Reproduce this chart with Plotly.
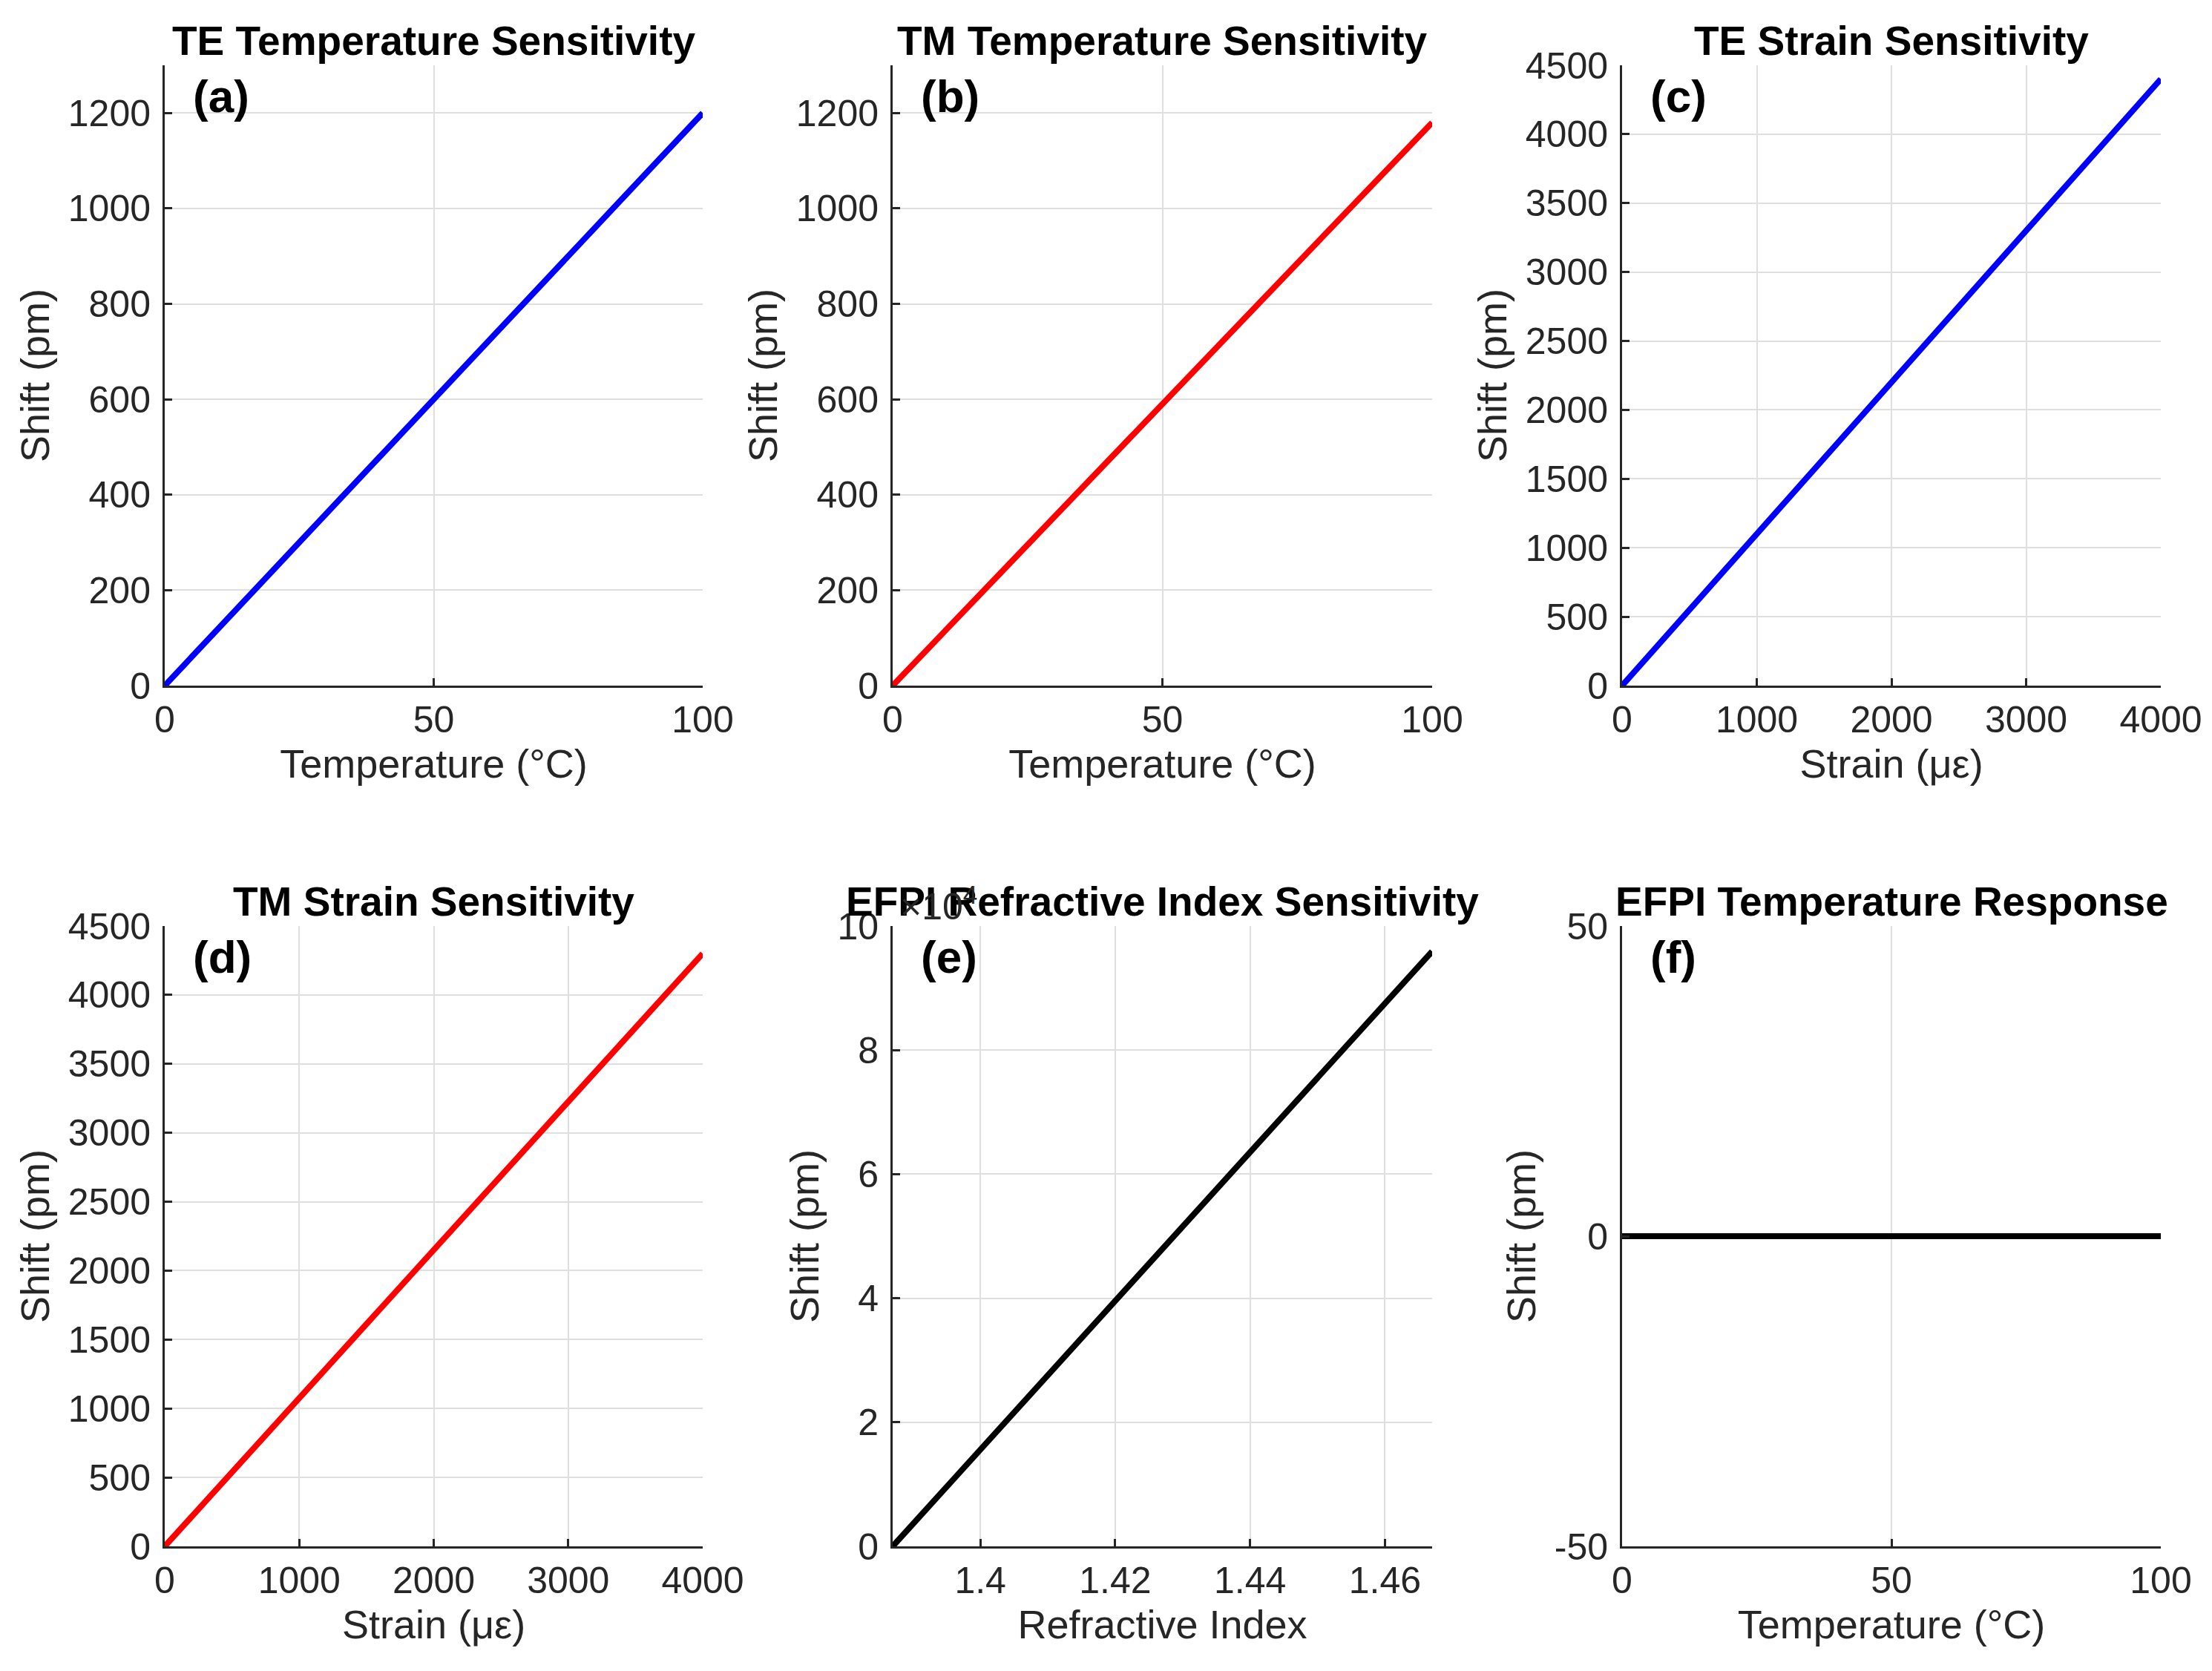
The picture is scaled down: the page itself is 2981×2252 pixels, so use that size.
import plotly.graph_objects as go

# values (straight lines, start and end points)
temp_c = [0, 100]
te_temp_shift = [0, 1200]
tm_temp_shift = [0, 1180]

strain_ue = [0, 4000]
te_strain_shift = [0, 4400]
tm_strain_shift = [0, 4300]

ri = [1.387, 1.467]
efpi_ri_shift = [0, 95900]

efpi_temp_shift = [0, 0]

titles = ["TE Temperature Sensitivity", "TM Temperature Sensitivity",
          "TE Strain Sensitivity", "TM Strain Sensitivity",
          "EFPI Refractive Index Sensitivity", "EFPI Temperature Response"]
panel_tags = ["(a)", "(b)", "(c)", "(d)", "(e)", "(f)"]
xlabels = ["Temperature (°C)", "Temperature (°C)", "Strain (με)",
           "Strain (με)", "Refractive Index", "Temperature (°C)"]

panels = [
    (temp_c, te_temp_shift, "blue"),
    (temp_c, tm_temp_shift, "red"),
    (strain_ue, te_strain_shift, "blue"),
    (strain_ue, tm_strain_shift, "red"),
    (ri, efpi_ri_shift, "black"),
    (temp_c, efpi_temp_shift, "black"),
]

xranges = [[0, 100], [0, 100], [0, 4000], [0, 4000], ri, [0, 100]]
xticks = [[0, 50, 100], [0, 50, 100], [0, 1000, 2000, 3000, 4000],
          [0, 1000, 2000, 3000, 4000], [1.4, 1.42, 1.44, 1.46], [0, 50, 100]]
yranges = [[0, 1300], [0, 1300], [0, 4500], [0, 4500], [0, 100000], [-50, 50]]
yticks = [list(range(0, 1201, 200)), list(range(0, 1201, 200)),
          list(range(0, 4501, 500)), list(range(0, 4501, 500)),
          list(range(0, 100001, 20000)), [-50, 0, 50]]
ytext = [None, None, None, None, ["0", "2", "4", "6", "8", "10"],
         ["-50", "0", "50"]]

W, H = 2981, 2252
OFF = 8  # page body margin
col_x = [(222 - OFF, 947 - OFF), (1203 - OFF, 1930 - OFF), (2186 - OFF, 2912 - OFF)]
row_y = [(88 - OFF, 924 - OFF), (1248 - OFF, 2084 - OFF)]

FONT = "Liberation Sans, Arial, Helvetica, sans-serif"
AX = "#262626"
GRID = "#dfdfdf"

fig = go.Figure()
annotations = []

for i, (xs, ys, color) in enumerate(panels):
    r, c = divmod(i, 3)
    n = "" if i == 0 else str(i + 1)
    x0, x1 = col_x[c]
    y0, y1 = row_y[r]
    xd = [x0 / W, x1 / W]
    yd = [1 - y1 / H, 1 - y0 / H]

    fig.add_trace(go.Scatter(x=xs, y=ys, mode="lines",
                             line=dict(color=color, width=8),
                             xaxis="x" + n, yaxis="y" + n,
                             showlegend=False, cliponaxis=False))

    common = dict(showline=True, linecolor=AX, linewidth=3,
                  ticks="inside", ticklen=10, tickwidth=3, tickcolor=AX,
                  showgrid=True, gridcolor=GRID, gridwidth=2,
                  zeroline=False, mirror=False, automargin=False,
                  tickfont=dict(family=FONT, size=50, color=AX))

    fig.layout["xaxis" + n] = dict(
        domain=xd, anchor="y" + n, range=xranges[i], tickvals=xticks[i],
        title=dict(text=xlabels[i], font=dict(family=FONT, size=54, color=AX),
                   standoff=14),
        **common)
    ydict = dict(
        domain=yd, anchor="x" + n, range=yranges[i], tickvals=yticks[i],
        ticklabelstandoff=6,
        title=dict(text="Shift (pm)", font=dict(family=FONT, size=54, color=AX),
                   standoff=8),
        **common)
    if ytext[i] is not None:
        ydict["ticktext"] = ytext[i]
    fig.layout["yaxis" + n] = ydict

    # subplot title
    annotations.append(dict(
        text="<b>" + titles[i] + "</b>", xref="paper", yref="paper",
        x=(xd[0] + xd[1]) / 2, y=yd[1], xanchor="center", yanchor="bottom",
        yshift=0, showarrow=False,
        font=dict(family=FONT, size=55, color="black")))
    # panel tag
    annotations.append(dict(
        text="<b>" + panel_tags[i] + "</b>",
        xref="x" + n + " domain", yref="y" + n + " domain",
        x=0.05, y=0.95, xanchor="left", yanchor="middle", showarrow=False,
        font=dict(family=FONT, size=62, color="black")))

# exponent label of panel (e)
annotations.append(dict(
    text="×10<sup>4</sup>", xref="paper", yref="paper",
    x=col_x[1][0] / W, y=1 - row_y[1][0] / H, xanchor="left", yanchor="bottom",
    xshift=8, yshift=-4, showarrow=False,
    font=dict(family=FONT, size=50, color=AX)))

fig.update_layout(width=W, height=H, margin=dict(l=0, r=0, t=0, b=0),
                  paper_bgcolor="white", plot_bgcolor="white",
                  annotations=annotations)

fig.write_html("out.html")
